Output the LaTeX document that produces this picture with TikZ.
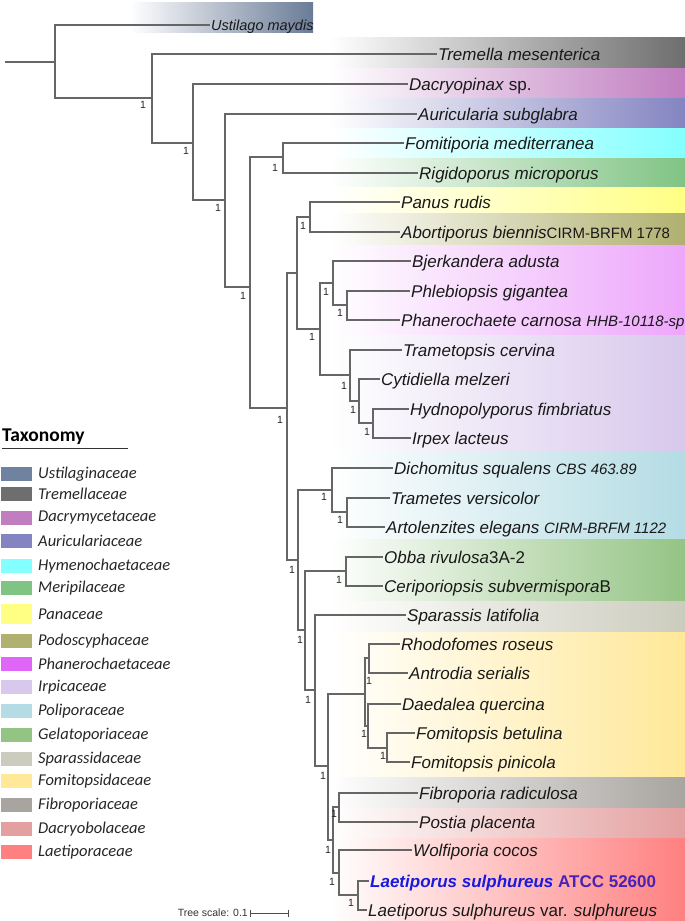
\documentclass[tikz,border=0pt]{standalone}
\usepackage{fontspec}
\setmainfont{Liberation Sans}
\newfontfamily\legendfont{Carlito}
\usepackage{xcolor}
\usetikzlibrary{arrows.meta}
\definecolor{ustil}{HTML}{6F829F}
\definecolor{tremel}{HTML}{6E6E6E}
\definecolor{dacrym}{HTML}{C07EC0}
\definecolor{auric}{HTML}{8484C2}
\definecolor{hymen}{HTML}{84FFFF}
\definecolor{merip}{HTML}{80C484}
\definecolor{panac}{HTML}{FFFF84}
\definecolor{podos}{HTML}{B0B070}
\definecolor{phaner}{HTML}{E066F8}
\definecolor{irpic}{HTML}{D8C8EC}
\definecolor{polip}{HTML}{B4DCE4}
\definecolor{gelat}{HTML}{94C484}
\definecolor{sparas}{HTML}{CCCCBE}
\definecolor{fomit}{HTML}{FFE898}
\definecolor{fibro}{HTML}{A8A4A0}
\definecolor{dacryob}{HTML}{E4A0A0}
\definecolor{laeti}{HTML}{FF8080}
\definecolor{lsblue}{HTML}{1A1ADF}
\definecolor{lspurple}{HTML}{4A22B4}
\newcommand{\strn}[1]{{\fontsize{15}{15}\selectfont #1}}
\begin{document}
\begin{tikzpicture}[x=1pt,y=-1pt,
  br/.style={draw=black!60,line width=1.1pt},
  leaf/.style={anchor=west,inner xsep=1pt,inner ysep=0pt,text height=12.2pt,text depth=0pt,
    font=\fontsize{17}{17}\selectfont\itshape,text=black!90},
  bs/.style={inner sep=0pt,font=\fontsize{10.5}{10.5}\selectfont,text=black!85},
  leg/.style={anchor=west,inner sep=0pt,font=\legendfont\fontsize{16.5}{16.5}\selectfont\itshape,text=black!85},
  strip/.style={left color=white,right color=#1}]
\useasboundingbox (0,0) rectangle (685,921);
% colour ranges
\shade[strip=ustil!95!black] (130,2) rectangle (313,32);
\foreach \ya/\yb/\c in {37/68/tremel,68/98/dacrym,98/128/auric,128/158/hymen,158/187/merip,
  187/213/panac,213/245/podos,245/335/phaner!58!white,335/452/irpic,452/539/polip,539/601/gelat,
  601/632/sparas,632/777/fomit,777/808/fibro,808/838/dacryob,838/921/laeti}
  \shade[strip=\c] (330,\ya+0.5) rectangle (685,\yb-0.5);
% legend
\node[anchor=west,inner sep=0pt,font=\legendfont\bfseries\fontsize{19.5}{19.5}\selectfont] (tax) at (2,437) {Taxonomy};
\draw[black!80,line width=0.8pt] (2,448) -- (128,448);
\foreach \y/\h/\c/\t in {474/7/ustil/Ustilaginaceae,494/7/tremel/Tremellaceae,518/7/dacrym/Dacrymycetaceae,
  541/7/auric/Auriculariaceae,566/7/hymen/Hymenochaetaceae,588/7/merip/Meripilaceae,614/10/panac/Panaceae,
  641/7/podos/Podoscyphaceae,664/7/phaner/Phanerochaetaceae,687/7/irpic/Irpicaceae,711/7/polip/Poliporaceae,
  735/7/gelat/Gelatoporiaceae,759/7/sparas/Sparassidaceae,781/7/fomit/Fomitopsidaceae,805/7/fibro/Fibroporiaceae,
  829/7/dacryob/Dacryobolaceae,852/7/laeti/Laetiporaceae}{
  \fill[\c] (1,\y-\h) rectangle (32,\y+\h);
  \node[leg] (lg-\c) at (38,\y) {\t};
}
% inner nodes
\coordinate (r0) at (5,62);
\coordinate (n0) at (55,62);
\coordinate (n1) at (152,98);
\coordinate (n2) at (193,143);
\coordinate (n3) at (225,200);
\coordinate (n4) at (250,287);
\coordinate (n5) at (283,157);
\coordinate (n6) at (287,408);
\coordinate (n7) at (297,273);
\coordinate (n8) at (298,560);
\coordinate (n9) at (310,217);
\coordinate (n10) at (320,329);
\coordinate (n11) at (333,283);
\coordinate (n12) at (350,375);
\coordinate (n13) at (347,305);
\coordinate (n14) at (359,401);
\coordinate (n15) at (373,423);
\coordinate (n16) at (332,490);
\coordinate (n17) at (305,630);
\coordinate (n18) at (347,512);
\coordinate (n19) at (346,571);
\coordinate (n20) at (315,690);
\coordinate (n21) at (328,766);
\coordinate (n22) at (365,694);
\coordinate (n23) at (333,840);
\coordinate (n24) at (369,658);
\coordinate (n25) at (368,726);
\coordinate (n26) at (387,748);
\coordinate (n27) at (339,807);
\coordinate (n28) at (339,873);
\coordinate (n29) at (358,895);
% leaves
\node[leaf,text height=10.4pt,font=\fontsize{14.5}{14.5}\selectfont\itshape] (ustilago) at (210,25) {Ustilago maydis};
\node[leaf] (tremella) at (437,54) {Tremella mesenterica};
\node[leaf] (dacryo) at (408,84) {Dacryopinax \textup{sp.}};
\node[leaf] (auric) at (417,114) {Auricularia subglabra};
\node[leaf] (fomitip) at (404,143) {Fomitiporia mediterranea};
\node[leaf] (rigido) at (418,173) {Rigidoporus microporus};
\node[leaf] (panus) at (400,202) {Panus rudis};
\node[leaf] (aborti) at (400,232) {Abortiporus biennis\textup{\strn{CIRM-BRFM 1778}}};
\node[leaf] (bjerk) at (411,261) {Bjerkandera adusta};
\node[leaf] (phleb) at (410,291) {Phlebiopsis gigantea};
\node[leaf] (phaner) at (400,320) {Phanerochaete carnosa \strn{HHB-10118-sp}};
\node[leaf] (tramet) at (402,350) {Trametopsis cervina};
\node[leaf] (cytid) at (380,379) {Cytidiella melzeri};
\node[leaf] (hydno) at (409,409) {Hydnopolyporus fimbriatus};
\node[leaf] (irpex) at (411,438) {Irpex lacteus};
\node[leaf] (dicho) at (393,468) {Dichomitus squalens \strn{CBS 463.89}};
\node[leaf] (trver) at (390,498) {Trametes versicolor};
\node[leaf] (artol) at (385,527) {Artolenzites elegans \strn{CIRM-BRFM 1122}};
\node[leaf] (obba) at (383,557) {Obba rivulosa\textup{3A-2}};
\node[leaf] (ceri) at (383,586) {Ceriporiopsis subvermispora\textup{B}};
\node[leaf] (spar) at (406,615) {Sparassis latifolia};
\node[leaf] (rhodo) at (400,644) {Rhodofomes roseus};
\node[leaf] (antro) at (408,673) {Antrodia serialis};
\node[leaf] (daed) at (401,704) {Daedalea quercina};
\node[leaf] (fbet) at (415,733) {Fomitopsis betulina};
\node[leaf] (fpin) at (410,762) {Fomitopsis pinicola};
\node[leaf] (fibro) at (418,793) {Fibroporia radiculosa};
\node[leaf] (postia) at (418,822) {Postia placenta};
\node[leaf] (wolfi) at (412,850) {Wolfiporia cocos};
\node[leaf,font=\fontsize{17}{17}\selectfont\bfseries\itshape,text=lsblue] (lsatcc) at (369,881)
  {Laetiporus sulphureus \textup{\textcolor{lspurple}{ATCC 52600}}};
\node[leaf] (lsvar) at (367,910) {Laetiporus sulphureus \textup{var.} sulphureus};
% branches
\draw[br] (r0) -- (n0);
\draw[br] (n0) |- (ustilago.west); \draw[br] (n0) |- (n1);
\draw[br] (n1) |- (tremella.west); \draw[br] (n1) |- (n2);
\draw[br] (n2) |- (dacryo.west); \draw[br] (n2) |- (n3);
\draw[br] (n3) |- (auric.west); \draw[br] (n3) |- (n4);
\draw[br] (n4) |- (n5); \draw[br] (n4) |- (n6);
\draw[br] (n5) |- (fomitip.west); \draw[br] (n5) |- (rigido.west);
\draw[br] (n6) |- (n7); \draw[br] (n6) |- (n8);
\draw[br] (n7) |- (n9); \draw[br] (n7) |- (n10);
\draw[br] (n9) |- (panus.west); \draw[br] (n9) |- (aborti.west);
\draw[br] (n10) |- (n11); \draw[br] (n10) |- (n12);
\draw[br] (n11) |- (bjerk.west); \draw[br] (n11) |- (n13);
\draw[br] (n13) |- (phleb.west); \draw[br] (n13) |- (phaner.west);
\draw[br] (n12) |- (tramet.west); \draw[br] (n12) |- (n14);
\draw[br] (n14) |- (cytid.west); \draw[br] (n14) |- (n15);
\draw[br] (n15) |- (hydno.west); \draw[br] (n15) |- (irpex.west);
\draw[br] (n8) |- (n16); \draw[br] (n8) |- (n17);
\draw[br] (n16) |- (dicho.west); \draw[br] (n16) |- (n18);
\draw[br] (n18) |- (trver.west); \draw[br] (n18) |- (artol.west);
\draw[br] (n17) |- (n19); \draw[br] (n17) |- (n20);
\draw[br] (n19) |- (obba.west); \draw[br] (n19) |- (ceri.west);
\draw[br] (n20) |- (spar.west); \draw[br] (n20) |- (n21);
\draw[br] (n21) |- (n22); \draw[br] (n21) |- (n23);
\draw[br] (n22) |- (n24); \draw[br] (n22) |- (n25);
\draw[br] (n24) |- (rhodo.west); \draw[br] (n24) |- (antro.west);
\draw[br] (n25) |- (daed.west); \draw[br] (n25) |- (n26);
\draw[br] (n26) |- (fbet.west); \draw[br] (n26) |- (fpin.west);
\draw[br] (n23) |- (n27); \draw[br] (n23) |- (n28);
\draw[br] (n27) |- (fibro.west); \draw[br] (n27) |- (postia.west);
\draw[br] (n28) |- (wolfi.west); \draw[br] (n28) |- (n29);
\draw[br] (n29) |- (lsatcc.west); \draw[br] (n29) |- (lsvar.west);
% support values
\node[bs] (b1) at (143,105) {1};
\node[bs] (b2) at (186,151) {1};
\node[bs] (b3) at (218,208) {1};
\node[bs] (b4) at (243,296) {1};
\node[bs] (b5) at (275,168) {1};
\node[bs] (b6) at (280,420) {1};
\node[bs] (b7) at (303,226) {1};
\node[bs] (b8) at (312,337) {1};
\node[bs] (b9) at (326,292) {1};
\node[bs] (b10) at (340,313) {1};
\node[bs] (b11) at (344,386) {1};
\node[bs] (b12) at (353,410) {1};
\node[bs] (b13) at (367,432) {1};
\node[bs] (b14) at (292,570) {1};
\node[bs] (b15) at (324,497) {1};
\node[bs] (b16) at (340,520) {1};
\node[bs] (b17) at (300,640) {1};
\node[bs] (b18) at (339,580) {1};
\node[bs] (b19) at (308,700) {1};
\node[bs] (b20) at (323,776) {1};
\node[bs] (b21) at (369,681) {1};
\node[bs] (b22) at (364,734) {1};
\node[bs] (b23) at (383,756) {1};
\node[bs] (b24) at (334,814) {1};
\node[bs] (b25) at (328,850) {1};
\node[bs] (b26) at (332,882) {1};
\node[bs] (b27) at (351,903) {1};
% scale
\node[anchor=east,inner sep=0pt,font=\fontsize{10.5}{10.5}\selectfont,text=black!80] (scale) at (248,913) {Tree scale: 0.1};
\coordinate (sb1) at (250,913);
\coordinate (sb2) at (289,913);
\draw[black!70,line width=0.8pt,{Bar[width=7pt]}-{Bar[width=7pt]}] (sb1) -- (sb2);
\end{tikzpicture}
\end{document}
